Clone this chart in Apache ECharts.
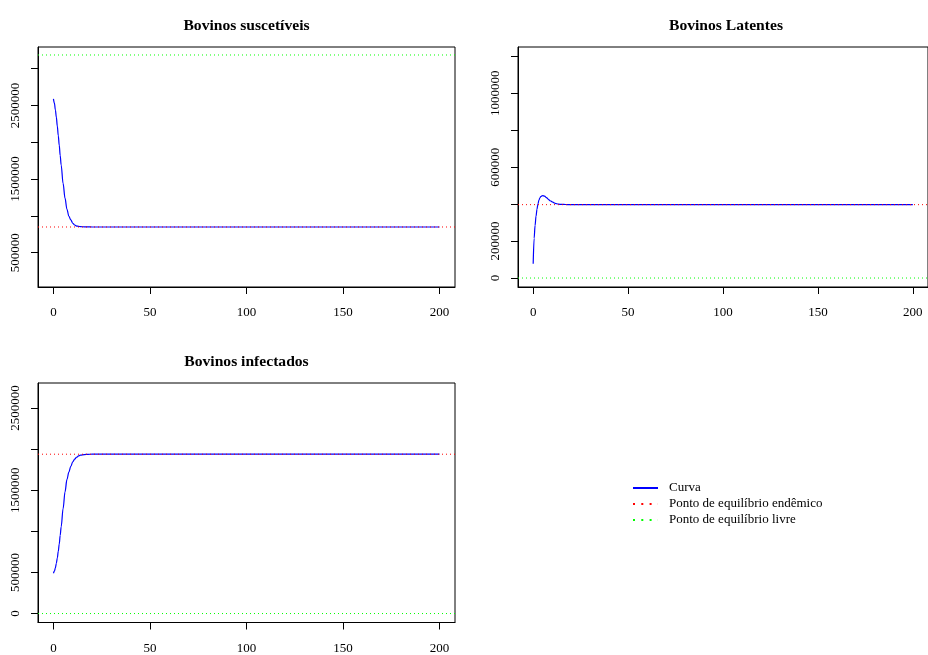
<!DOCTYPE html>
<html>
<head>
<meta charset="utf-8">
<script src="https://cdn.jsdelivr.net/npm/echarts@6/dist/echarts.min.js"></script>
<style>
  html, body { margin: 0; padding: 0; background: #fff; }
  #main { width: 928px; height: 655px; }
</style>
</head>
<body>
<div id="main"></div>
<script>
// tempo (dias) e as três curvas do modelo
var tempo = [0, 0.5, 1, 1.5, 2, 2.5, 3, 3.5, 4, 5, 6, 7, 8, 9, 10, 11, 12, 13, 14, 16, 18, 20, 25, 30, 50, 100, 150, 200];
var suscetiveis = [2590000, 2530000, 2440000, 2340000, 2220000, 2090000, 1960000, 1820000, 1690000, 1440000, 1240000, 1090000, 995000, 945000, 900000, 876000, 862000, 858000, 854000, 851000, 850000, 849000, 849000, 849000, 849000, 849000, 849000, 849000];
var latentes = [77000, 215000, 285000, 335000, 372000, 400000, 420000, 433000, 441000, 446000, 443000, 435000, 426000, 418000, 412000, 407000, 403000, 400500, 399000, 398000, 397500, 397000, 397000, 397000, 397000, 397000, 397000, 397000];
var infectados = [490000, 515000, 555000, 610000, 675000, 755000, 845000, 950000, 1055000, 1275000, 1480000, 1630000, 1720000, 1790000, 1845000, 1877000, 1900000, 1916000, 1926000, 1933000, 1936000, 1937000, 1937000, 1937000, 1937000, 1937000, 1937000, 1937000];

// pontos de equilíbrio (S, L, I)
var equilibrioEndemico = [849000, 397000, 1937000];
var equilibrioLivre = [3185000, 0, 0];

var titulos = ['Bovinos suscetíveis', 'Bovinos Latentes', 'Bovinos infectados'];
var ticksX = [0, 50, 100, 150, 200];
var ticksY = [
  [500000, 1000000, 1500000, 2000000, 2500000, 3000000],
  [0, 200000, 400000, 600000, 800000, 1000000, 1200000],
  [0, 500000, 1000000, 1500000, 2000000, 2500000]
];
var rotulosY = [
  [500000, 1500000, 2500000],
  [0, 200000, 600000, 1000000],
  [0, 500000, 1500000, 2500000]
];
var limitesX = [-8, 208];
var limitesY = [[34000, 3293500], [-48600, 1250000], [-109000, 2802700]];
var legendaNomes = ['Curva', 'Ponto de equilíbrio endêmico', 'Ponto de equilíbrio livre'];

var FONTE = '"Liberation Serif", "Times New Roman", serif';
var grids = [
  { left: 38, top: 47, width: 417, height: 240 },
  { left: 518, top: 47, width: 416, height: 240 },
  { left: 38, top: 383, width: 417, height: 241 }
];
var curvas = [suscetiveis, latentes, infectados];

var myChart = echarts.init(document.getElementById('main'));

var option = {
  animation: false,
  backgroundColor: '#fff',
  title: [],
  grid: [],
  xAxis: [],
  yAxis: [],
  series: [],
  legend: {
    orient: 'vertical',
    left: 632,
    top: 481.5,
    padding: 0,
    itemWidth: 25,
    itemHeight: 14,
    itemGap: 3,
    itemStyle: { opacity: 0 },
    textStyle: { fontFamily: FONTE, fontSize: 13, color: '#000', padding: [0, 0, 0, 6] },
    data: [
      { name: legendaNomes[0], lineStyle: { width: 2, color: '#0000ff' } },
      { name: legendaNomes[1], lineStyle: { width: 2, color: '#ff0000', type: [2, 6.3] } },
      { name: legendaNomes[2], lineStyle: { width: 2, color: '#00ff00', type: [2, 6.3] } }
    ]
  }
};

function rotulo(v) { return String(v); }

grids.forEach(function (g, i) {
  option.title.push({
    text: titulos[i],
    left: g.left + g.width / 2,
    top: i < 2 ? 25.5 : 361.5,
    padding: 0,
    textAlign: 'center',
    textVerticalAlign: 'middle',
    textStyle: { fontFamily: FONTE, fontSize: 15.6, fontWeight: 'bold', color: '#000' }
  });
  option.grid.push({
    left: g.left, top: g.top, width: g.width, height: g.height,
    show: true, borderColor: '#000', borderWidth: 1, backgroundColor: 'transparent'
  });
  option.xAxis.push({
    type: 'value', gridIndex: i, min: limitesX[0], max: limitesX[1],
    splitLine: { show: false },
    axisLine: { show: true, onZero: false, lineStyle: { color: '#000', width: 1 } },
    axisTick: { show: true, length: 7, lineStyle: { color: '#000' }, customValues: ticksX },
    axisLabel: { margin: 19.5, fontFamily: FONTE, fontSize: 13, color: '#000', customValues: ticksX, formatter: rotulo }
  });
  option.yAxis.push({
    type: 'value', gridIndex: i, min: limitesY[i][0], max: limitesY[i][1],
    splitLine: { show: false },
    axisLine: { show: true, onZero: false, lineStyle: { color: '#000', width: 1 } },
    axisTick: { show: true, length: 7, lineStyle: { color: '#000' }, customValues: ticksY[i] },
    axisLabel: { rotate: 90, margin: 16, fontFamily: FONTE, fontSize: 13, color: '#000', customValues: rotulosY[i], formatter: rotulo }
  });

  option.series.push({
    name: legendaNomes[0], type: 'line', xAxisIndex: i, yAxisIndex: i,
    data: tempo.map(function (t, k) { return [t, curvas[i][k]]; }),
    showSymbol: false, symbol: 'none',
    smooth: 0.35, smoothMonotone: 'x',
    lineStyle: { color: '#0000ff', width: 1.2 },
    itemStyle: { color: '#0000ff' }
  });
  // linhas horizontais de equilíbrio, de ponta a ponta do eixo x
  [[equilibrioEndemico, '#ff0000', 1], [equilibrioLivre, '#00ff00', 2]].forEach(function (eq) {
    option.series.push({
      name: legendaNomes[eq[2]], type: 'line', xAxisIndex: i, yAxisIndex: i,
      data: limitesX.map(function (x) { return [x, eq[0][i]]; }),
      symbol: 'none', silent: true,
      lineStyle: { color: eq[1], width: 1, type: [1, 3] },
      itemStyle: { color: eq[1] }
    });
  });
});

myChart.setOption(option);
</script>
</body>
</html>
